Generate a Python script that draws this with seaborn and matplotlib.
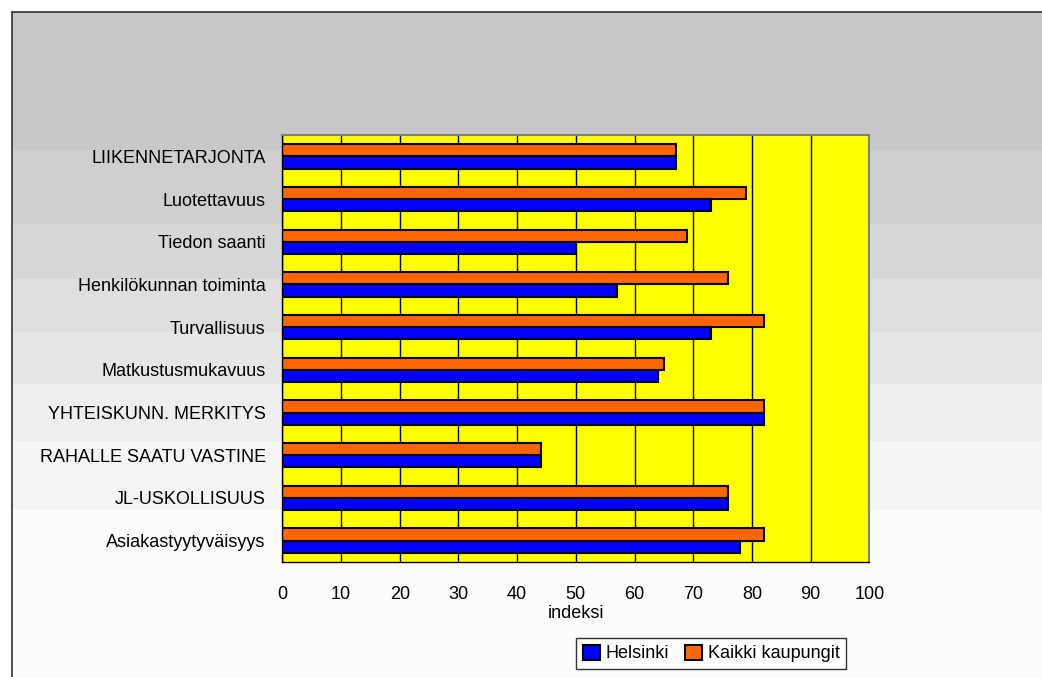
import matplotlib
matplotlib.use("Agg")
import matplotlib.pyplot as plt
import pandas as pd
import seaborn as sns
from matplotlib.patches import Rectangle, Patch
from matplotlib.lines import Line2D

# Survey index values per service attribute
categories = [
    "LIIKENNETARJONTA",
    "Luotettavuus",
    "Tiedon saanti",
    "Henkilökunnan toiminta",
    "Turvallisuus",
    "Matkustusmukavuus",
    "YHTEISKUNN. MERKITYS",
    "RAHALLE SAATU VASTINE",
    "JL-USKOLLISUUS",
    "Asiakastyytyväisyys",
]
helsinki = [67, 73, 50, 57, 73, 64, 82, 44, 76, 78]
kaikki_kaupungit = [67, 79, 69, 76, 82, 65, 82, 44, 76, 82]
series = ["Helsinki", "Kaikki kaupungit"]
x_ticks = [0, 10, 20, 30, 40, 50, 60, 70, 80, 90, 100]
x_label = "indeksi"

colors = {"Helsinki": "#0000ff", "Kaikki kaupungit": "#ff6600"}

sns.set_style("white")
plt.rcParams["font.family"] = ["Liberation Sans", "DejaVu Sans"]
plt.rcParams["text.color"] = "black"
plt.rcParams["xtick.color"] = "black"
plt.rcParams["ytick.color"] = "black"
plt.rcParams["axes.labelcolor"] = "black"
FS = 13

df = pd.DataFrame({
    "kohde": categories * 2,
    "indeksi": helsinki + kaikki_kaupungit,
    "ryhma": [series[0]] * len(categories) + [series[1]] * len(categories),
})

W, H = 1042, 677
fig = plt.figure(figsize=(W / 100, H / 100), dpi=100)
fig.patch.set_facecolor("white")

# stepped grey backdrop, darker at the top
band_edges = [12, 150, 224, 279, 332, 384, 441, 510, 677]
band_colors = ["#c8c8c8", "#cfcfcf", "#d7d7d7", "#dfdfdf",
               "#e6e6e6", "#eeeeee", "#f5f5f5", "#fcfcfc"]
for (y0, y1), c in zip(zip(band_edges[:-1], band_edges[1:]), band_colors):
    fig.add_artist(Rectangle((12 / W, 1 - y1 / H), 1, (y1 - y0) / H,
                             transform=fig.transFigure, facecolor=c,
                             edgecolor="none", zorder=-10))
# outer frame lines
fig.add_artist(Line2D([12 / W, 1], [1 - 12 / H, 1 - 12 / H],
                      transform=fig.transFigure, color="#333333", lw=1.2))
fig.add_artist(Line2D([12 / W, 12 / W], [0, 1 - 12 / H],
                      transform=fig.transFigure, color="#333333", lw=1.2))

ax = fig.add_axes([282.3 / W, 1 - 562 / H, 587 / W, 427 / H])
ax.set_facecolor("#ffff00")

sns.barplot(
    data=df, y="kohde", x="indeksi", hue="ryhma",
    order=categories, hue_order=["Kaikki kaupungit", "Helsinki"],
    palette=colors, orient="h", width=0.57, saturation=1,
    edgecolor="black", linewidth=1.5, legend=False, ax=ax,
)

ax.set_xlim(0, 100)
ax.set_ylim(len(categories) - 0.5, -0.5)
ax.set_xticks(x_ticks)
ax.set_xticklabels([str(t) for t in x_ticks], fontsize=FS)
ax.set_axisbelow(True)
ax.xaxis.grid(True, color="black", lw=1)
ax.yaxis.grid(False)

ax.set_yticks(range(len(categories)))
ax.set_yticklabels(categories, fontsize=FS)
ax.set_yticks([i - 0.5 for i in range(len(categories) + 1)], minor=True)
ax.tick_params(axis="y", which="major", length=0, pad=12)
ax.tick_params(axis="y", which="minor", length=6, width=1, color="black", direction="out")
ax.tick_params(axis="x", which="major", length=6, width=1, color="black", direction="out", pad=11)

ax.set_xlabel(x_label, fontsize=FS, labelpad=2)
ax.set_ylabel("")

for side in ("left", "bottom"):
    ax.spines[side].set_color("black")
    ax.spines[side].set_linewidth(1)
for side in ("top", "right"):
    ax.spines[side].set_color("#808080")
    ax.spines[side].set_linewidth(1.5)

handles = [Patch(facecolor=colors[s], edgecolor="black", linewidth=1.5) for s in series]
leg = fig.legend(handles, series, loc="center", ncol=2,
                 bbox_to_anchor=(711 / W, 1 - 653.5 / H), fontsize=FS,
                 frameon=True, fancybox=False, handlelength=0.95, handleheight=0.95,
                 handletextpad=0.3, columnspacing=0.9, borderpad=0.35,
                 borderaxespad=0)
leg.get_frame().set_edgecolor("black")
leg.get_frame().set_linewidth(1)
leg.get_frame().set_facecolor("white")

fig.savefig("out.png", dpi=100)
